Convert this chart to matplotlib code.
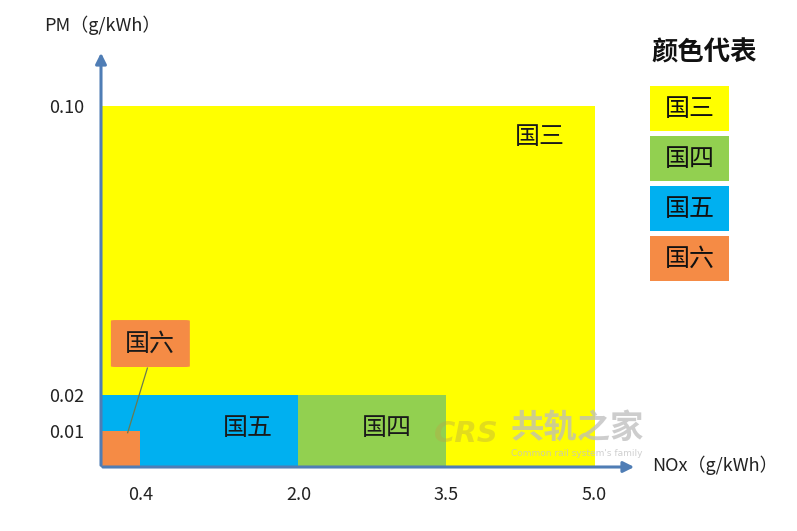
import matplotlib.pyplot as plt
from matplotlib.patches import Rectangle, FancyBboxPatch

plt.rcParams['font.family'] = ['Noto Sans CJK SC', 'DejaVu Sans']

# Data: emission limits (NOx, PM in g/kWh) per standard
standards = ['国三', '国四', '国五', '国六']
nox_limit = [5.0, 3.5, 2.0, 0.4]
pm_limit = [0.10, 0.02, 0.02, 0.01]
colors = ['#FFFF00', '#92D050', '#00B0F0', '#F58B45']
x_ticks = [0.4, 2.0, 3.5, 5.0]
x_tick_labels = ['0.4', '2.0', '3.5', '5.0']
y_ticks = [0.01, 0.02, 0.10]
y_tick_labels = ['0.01', '0.02', '0.10']

W, H = 797, 531
fig = plt.figure(figsize=(W / 100, H / 100), dpi=100)
# axes: x=0 at px 101, right end (arrow tip) at px 637; y=0 at px 467, top at px 50
ax = fig.add_axes([101 / W, (H - 467) / H, 536 / W, 417 / H])
ax.set_xlim(0, 5.43)
ax.set_ylim(0, 0.1155)
for s in ax.spines.values():
    s.set_visible(False)
ax.patch.set_alpha(0)

# regions, largest first
for name, nx, pm, c in zip(standards, nox_limit, pm_limit, colors):
    ax.bar(0, pm, width=nx, align='edge', color=c, linewidth=0, zorder=1)

# labels inside regions
ax.text(4.45, 0.0915, '国三', fontsize=18, ha='center', va='center', color='#1a1a1a', zorder=3)
ax.text(2.9, 0.0108, '国四', fontsize=18, ha='center', va='center', color='#1a1a1a', zorder=3)
ax.text(1.49, 0.0108, '国五', fontsize=18, ha='center', va='center', color='#1a1a1a', zorder=3)

# callout for 国六
ax.plot([0.47, 0.27], [0.0274, 0.0095], color='#6a7a50', lw=0.9, zorder=3)
ax.add_patch(FancyBboxPatch((0.1, 0.0277), 0.8, 0.0130,
                            boxstyle='round,pad=0,rounding_size=0.05',
                            mutation_aspect=0.0037, fc='#F58B45', ec='none', zorder=4))
ax.text(0.5, 0.0342, '国六', fontsize=18, ha='center', va='center', color='#1a1a1a', zorder=5)

# axes arrows
axis_color = '#4F7DB5'
ax.annotate('', xy=(5.43, 0), xytext=(-0.01, 0),
            arrowprops=dict(arrowstyle='-|>', color=axis_color, lw=2.2, mutation_scale=16),
            annotation_clip=False, zorder=6)
ax.annotate('', xy=(0, 0.1155), xytext=(0, -0.0003),
            arrowprops=dict(arrowstyle='-|>', color=axis_color, lw=2.2, mutation_scale=16),
            annotation_clip=False, zorder=6)

ax.set_xticks(x_ticks, x_tick_labels, fontsize=13, color='#222222')
ax.set_yticks(y_ticks, y_tick_labels, fontsize=13, color='#222222')
ax.tick_params(axis='both', length=0)
ax.tick_params(axis='x', pad=14)
ax.tick_params(axis='y', pad=12)

# axis titles
fig.text(102 / W, 1 - 25 / H, 'PM（g/kWh）', fontsize=13, ha='center', va='center', color='#222222')
fig.text(715 / W, 1 - 465 / H, 'NOx（g/kWh）', fontsize=13, ha='center', va='center', color='#222222')

# watermark
fig.text(466 / W, 1 - 434 / H, 'CRS', fontsize=21, style='italic', fontweight='bold',
         ha='center', va='center', color='#b8a848', alpha=0.4, family='DejaVu Sans')
fig.text(577 / W, 1 - 428 / H, '共轨之家', fontsize=24, fontweight='bold',
         ha='center', va='center', color='#bdbdbd', alpha=0.75)
fig.text(577 / W, 1 - 454 / H, "Common rail system's family", fontsize=6.5,
         ha='center', va='center', color='#c4c4c4', alpha=0.8, family='DejaVu Sans')

# legend
fig.text(704 / W, 1 - 53 / H, '颜色代表', fontsize=19, fontweight='bold',
         ha='center', va='center', color='#111111')
top = 86
for i, (name, c) in enumerate(zip(standards, colors)):
    y0 = top + i * 50
    fig.patches.append(Rectangle((650 / W, 1 - (y0 + 45) / H), 79 / W, 45 / H,
                                 transform=fig.transFigure, fc=c, ec='none'))
    fig.text(689.5 / W, 1 - (y0 + 22.5) / H, name, fontsize=18,
             ha='center', va='center', color='#111111')

fig.savefig('out.png', dpi=100)
